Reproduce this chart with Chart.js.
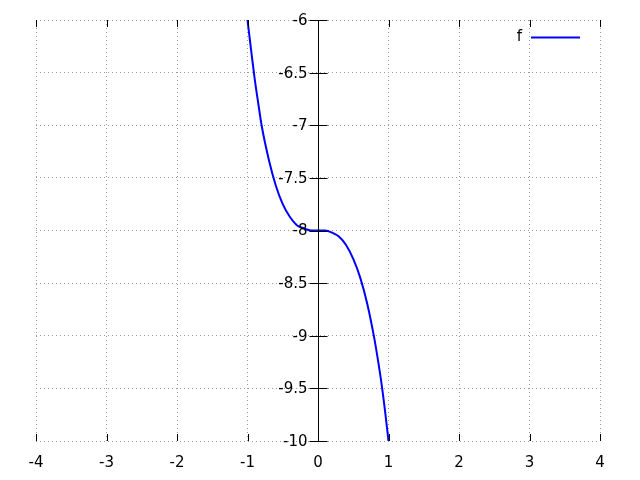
<!DOCTYPE html>
<html>
<head>
<meta charset="utf-8">
<script src="https://cdn.jsdelivr.net/npm/chart.js@4/dist/chart.umd.min.js"></script>
<style>
  html, body { margin: 0; padding: 0; background: #fff; }
  #wrap { width: 640px; height: 480px; }
</style>
</head>
<body>
<div id="wrap"><canvas id="grafico" width="640" height="480"></canvas></div>
<script>
// valores
const xs = [-1, -0.95, -0.9, -0.85, -0.8, -0.7, -0.6, -0.5, -0.4, -0.3, -0.2, -0.1, 0,
            0.1, 0.2, 0.3, 0.4, 0.5, 0.6, 0.7, 0.8, 0.85, 0.9, 0.95, 1];
const fVals = [-6.0, -6.28, -6.55, -6.78, -7.0, -7.32, -7.57, -7.75, -7.87, -7.95, -7.98, -8.0, -8.0,
               -8.0, -8.02, -8.06, -8.14, -8.27, -8.45, -8.7, -9.03, -9.23, -9.45, -9.71, -10.0];
const serieNombre = 'f';
const xTicks = [-4, -3, -2, -1, 0, 1, 2, 3, 4];
const yTicks = [-10, -9.5, -9, -8.5, -8, -7.5, -7, -6.5, -6];

const fuente = { family: 'DejaVu Sans', size: 15 };
const puntos = xs.map((x, i) => ({ x: x, y: fVals[i] }));

// eje en x=0 con sus etiquetas, marcas y leyenda al estilo gnuplot
const marcas = {
  id: 'marcas',
  afterDraw(chart) {
    const ctx = chart.ctx;
    const a = chart.chartArea;
    const sx = chart.scales.x, sy = chart.scales.y;
    ctx.save();
    ctx.strokeStyle = '#000';
    ctx.lineWidth = 1;
    ctx.setLineDash([]);
    ctx.beginPath();
    xTicks.forEach(v => {
      const px = Math.round(sx.getPixelForValue(v)) + 0.5;
      ctx.moveTo(px, a.bottom); ctx.lineTo(px, a.bottom - 7);
      ctx.moveTo(px, a.top); ctx.lineTo(px, a.top + 7);
    });
    const x0 = Math.round(sx.getPixelForValue(0)) + 0.5;
    ctx.moveTo(x0, a.top); ctx.lineTo(x0, a.bottom);
    yTicks.forEach(v => {
      const py = Math.round(sy.getPixelForValue(v)) + 0.5;
      ctx.moveTo(x0 - 9, py); ctx.lineTo(x0 + 9, py);
    });
    ctx.stroke();

    ctx.fillStyle = '#000';
    ctx.font = '15px "DejaVu Sans"';
    ctx.textAlign = 'right';
    ctx.textBaseline = 'middle';
    yTicks.forEach(v => {
      ctx.fillText(String(v), x0 - 11, sy.getPixelForValue(v) + 1);
    });

    // leyenda
    const ds = chart.data.datasets[0];
    const ly = 37.5;
    ctx.fillText(ds.label, 522, ly);
    ctx.strokeStyle = ds.borderColor;
    ctx.lineWidth = ds.borderWidth;
    ctx.beginPath();
    ctx.moveTo(531, ly); ctx.lineTo(580, ly);
    ctx.stroke();
    ctx.restore();
  }
};

const ctx = document.getElementById('grafico').getContext('2d');
new Chart(ctx, {
  type: 'scatter',
  data: {
    datasets: [{
      label: serieNombre,
      data: puntos,
      showLine: true,
      borderColor: '#0000ff',
      backgroundColor: '#0000ff',
      borderWidth: 2,
      pointRadius: 0,
      cubicInterpolationMode: 'monotone'
    }]
  },
  options: {
    responsive: false,
    animation: false,
    layout: { padding: { left: 36, right: 40, top: 20, bottom: 0 } },
    plugins: { legend: { display: false }, tooltip: { enabled: false } },
    scales: {
      x: {
        type: 'linear',
        position: 'bottom',
        min: -4, max: 4,
        afterBuildTicks: s => { s.ticks = xTicks.map(v => ({ value: v })); },
        afterFit: s => { s.height = 39; },
        grid: { color: '#9a9a9a', drawTicks: false },
        border: { display: false, dash: [1, 3] },
        ticks: { color: '#000', font: fuente, padding: 13, maxRotation: 0,
                 callback: v => String(v) }
      },
      y: {
        type: 'linear',
        position: { x: 0 },
        min: -10, max: -6,
        afterBuildTicks: s => { s.ticks = yTicks.map(v => ({ value: v })); },
        grid: { color: '#9a9a9a', drawTicks: false },
        border: { display: false, dash: [1, 3] },
        ticks: { display: false }
      }
    }
  },
  plugins: [marcas]
});
</script>
</body>
</html>
